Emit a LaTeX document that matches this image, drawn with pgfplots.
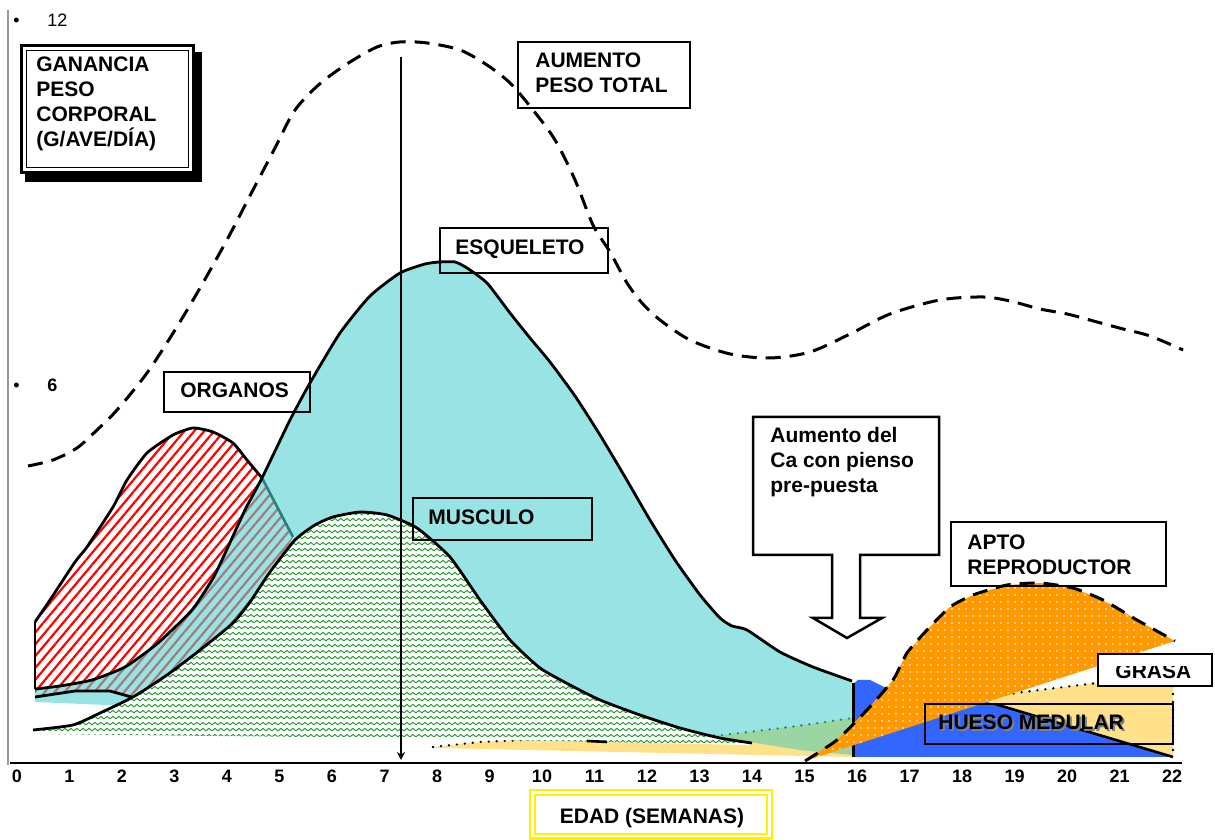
\documentclass[border=0pt]{standalone}
\usepackage{pgfplots}
\pgfplotsset{compat=1.18}
\usepackage{fontspec}
\setmainfont{Liberation Sans}
\usetikzlibrary{patterns, patterns.meta, arrows.meta}

\definecolor{esq}{HTML}{98E4E4}
\definecolor{grasa}{HTML}{FFE18A}
\definecolor{verde}{HTML}{9BD5A2}
\definecolor{tealdot}{HTML}{2E7D7D}
\definecolor{hatchb}{HTML}{A57A7A}
\definecolor{musc}{HTML}{2A9632}
\definecolor{hueso}{HTML}{3366FF}
\definecolor{apto}{HTML}{FF9900}
\definecolor{tealline}{HTML}{2B7F7F}

\tikzdeclarepattern{
  name=zigzag,
  type=uncolored,
  bottom left={(0pt,0pt)},
  top right={(3.2pt,3pt)},
  tile size={(3.2pt,3pt)},
  code={\draw[line width=0.55pt] (0pt,0.7pt) -- (1.6pt,2.1pt) -- (3.2pt,0.7pt);}
}

\newcommand{\lbl}{\fontsize{10.5}{12}\selectfont\bfseries}
\newcommand{\tickf}{\fontsize{9}{10}\selectfont\bfseries}

\begin{document}
\begin{tikzpicture}
\begin{axis}[
    scale only axis,
    width=607.5pt, height=420pt,
    xmin=-0.3238, xmax=22.819,
    ymin=-1.258, ymax=12.290,
    hide axis,
    clip=false,
]
\path (rel axis cs:0,0) rectangle (rel axis cs:1,1);
\coordinate (TL) at (rel axis cs:0,1);

% grasa (yellow)
\addplot[draw=none, fill=grasa] coordinates {
  (7.924,0.242) (8.819,0.323) (10.095,0.371) (11.486,0.403) (12.819,0.419)
  (13.448,0.435) (14.724,0.565) (15.924,0.710) (17.581,0.919) (19.162,1.129)
  (20.571,1.274) (22.019,1.355) (22.019,0.081) (15.924,0.081) (11.486,0.161)
  (7.924,0.226)} -- cycle;
\addplot[black, line width=1.3pt, line cap=round, dash pattern=on 0pt off 4pt] coordinates {
  (7.924,0.242) (8.819,0.323) (10.095,0.371) (11.486,0.403) (12.819,0.419)
  (13.448,0.435) (14.724,0.565) (15.924,0.710) (17.581,0.919) (19.162,1.129)
  (20.571,1.274) (22.019,1.355)};

% esqueleto (cyan)
\addplot[draw=none, fill=esq] coordinates {
  (0.343,1.177) (0.819,1.226) (1.429,1.323) (2.057,1.532) (2.686,1.919)
  (3.333,2.452) (3.714,2.935) (3.905,3.258) (4.343,4.065) (4.667,4.581)
  (5.2,5.516) (5.581,6.113) (6.152,6.919) (6.724,7.516) (7.295,7.887)
  (7.771,8.032) (8.057,8.065) (8.343,8.065) (8.571,7.968) (8.952,7.726)
  (9.390,7.242) (9.771,6.839) (10.152,6.452) (10.629,5.903) (11.105,5.274)
  (11.581,4.597) (12.057,3.903) (12.533,3.258) (13.010,2.694) (13.390,2.323)
  (13.619,2.194) (13.905,2.129) (14.533,1.774) (15.162,1.532) (15.905,1.306)
  (15.924,0.113) (14.914,0.194) (13.962,0.323) (7.295,0.597) (2.152,0.903)
  (0.343,0.968)} -- cycle;

% overlap grasa / esqueleto
\addplot[draw=none, fill=verde] coordinates {
  (12.819,0.419) (13.448,0.435) (14.724,0.565) (15.924,0.710)
  (15.924,0.113) (14.914,0.194) (13.962,0.323) (12.819,0.371)} -- cycle;
\addplot[tealdot, line width=1.3pt, line cap=round, dash pattern=on 0pt off 4pt] coordinates {
  (12.819,0.419) (13.448,0.435) (14.724,0.565) (15.924,0.710)};

% organos
\addplot[draw=none, pattern={Lines[angle=50,distance=3.8pt,line width=1.1pt]}, pattern color=hatchb] coordinates {
  (0.343,2.258) (0.629,2.613) (1.105,3.226) (1.333,3.468) (1.829,4.113)
  (2.095,4.548) (2.476,4.984) (2.971,5.274) (3.352,5.387) (3.733,5.323)
  (4.114,5.145) (4.381,4.871) (4.667,4.581) (5.257,3.629) (4.819,2.935)
  (4.114,2.161) (3.486,1.710) (2.857,1.306) (2.248,1.032) (1.771,1.145)
  (1.105,1.145) (0.343,1.048)} -- cycle;
\addplot[draw=none, fill=white, postaction={pattern={Lines[angle=50,distance=3.8pt,line width=1.1pt]}, pattern color=red}] coordinates {
  (0.343,2.258) (0.629,2.613) (1.105,3.226) (1.333,3.468) (1.829,4.113)
  (2.095,4.548) (2.476,4.984) (2.971,5.274) (3.352,5.387) (3.733,5.323)
  (4.114,5.145) (4.381,4.871) (4.667,4.581) (4.343,4.065) (3.905,3.258)
  (3.714,2.935) (3.333,2.452) (2.686,1.919) (2.057,1.532) (1.429,1.323)
  (0.819,1.226) (0.343,1.177)} -- cycle;
\addplot[black, line width=1.4pt] coordinates {(0.343,1.177) (0.343,2.258)};
\addplot[black, line width=1.4pt, smooth, tension=0.35] coordinates {
  (0.343,2.258) (0.629,2.613) (1.105,3.226) (1.333,3.468) (1.829,4.113)
  (2.095,4.548) (2.476,4.984) (2.971,5.274) (3.352,5.387) (3.733,5.323)
  (4.114,5.145) (4.381,4.871) (4.667,4.581)};
\addplot[tealline, line width=1.3pt] coordinates {(4.667,4.581) (5.257,3.629)};
\addplot[black, line width=1.4pt] coordinates {
  (0.343,1.048) (1.105,1.145) (1.771,1.145) (2.248,1.032)};

% esqueleto outline
\addplot[black, line width=1.4pt, smooth, tension=0.35] coordinates {
  (0.343,1.177) (0.819,1.226) (1.429,1.323) (2.057,1.532) (2.686,1.919)
  (3.333,2.452) (3.714,2.935) (3.905,3.258) (4.343,4.065) (4.667,4.581)
  (5.2,5.516) (5.581,6.113) (6.152,6.919) (6.724,7.516) (7.295,7.887)
  (7.771,8.032) (8.057,8.065) (8.343,8.065) (8.571,7.968) (8.952,7.726)
  (9.390,7.242) (9.771,6.839) (10.152,6.452) (10.629,5.903) (11.105,5.274)
  (11.581,4.597) (12.057,3.903) (12.533,3.258) (13.010,2.694) (13.390,2.323)
  (13.619,2.194) (13.905,2.129) (14.533,1.774) (15.162,1.532) (15.905,1.306)};

% musculo
\addplot[draw=none, fill=white, postaction={pattern=zigzag, pattern color=musc}] coordinates {
  (0.305,0.516) (1.067,0.597) (1.581,0.790) (2.210,1.048) (2.857,1.403)
  (3.486,1.806) (4.114,2.242) (4.438,2.581) (4.819,3.065) (5.295,3.581)
  (5.676,3.823) (6.019,3.952) (6.533,4.032) (7.048,3.984) (7.619,3.774)
  (8.248,3.306) (8.819,2.613) (9.390,1.968) (9.962,1.516) (10.533,1.242)
  (11.105,1.0) (11.867,0.758) (12.629,0.548) (13.390,0.387) (14.0,0.306)
  (14.0,0.274) (7.295,0.387) (0.305,0.452)} -- cycle;
\addplot[black, line width=1.4pt, smooth, tension=0.35] coordinates {
  (0.305,0.516) (1.067,0.597) (1.581,0.790) (2.210,1.048) (2.857,1.403)
  (3.486,1.806) (4.114,2.242) (4.438,2.581) (4.819,3.065) (5.295,3.581)
  (5.676,3.823) (6.019,3.952) (6.533,4.032) (7.048,3.984) (7.619,3.774)
  (8.248,3.306) (8.819,2.613) (9.390,1.968) (9.962,1.516) (10.533,1.242)
  (11.105,1.0) (11.867,0.758) (12.629,0.548) (13.390,0.387) (14.0,0.306)};
\addplot[black, line width=1.3pt] coordinates {(10.857,0.339) (11.238,0.323)};

% hueso medular (blue)
\addplot[draw=none, fill=hueso] coordinates {
  (15.924,0.081) (15.924,1.258) (16.019,1.323) (16.248,1.323) (16.552,1.194)
  (17.2,1.113) (18.476,0.968) (22.019,0.081)} -- cycle;
\addplot[black, line width=1.3pt] coordinates {(18.629,0.935) (22.019,0.081)};
\addplot[black, line width=1.5pt] coordinates {(15.924,1.274) (15.924,0.081)};

% aparato reproductor (orange)
\addplot[draw=none, fill=apto, postaction={pattern={Dots[radius=0.45pt,distance=3.5pt]}, pattern color=white}] coordinates {
  (15.010,0.016) (15.619,0.355) (16.190,0.839) (16.686,1.323) (16.952,1.758)
  (17.333,2.129) (17.771,2.5) (18.210,2.694) (18.857,2.855) (19.486,2.887)
  (20.114,2.806) (20.686,2.613) (21.333,2.290) (22.057,1.952)} -- cycle;
\addplot[black, line width=1.5pt, dash pattern=on 7.5pt off 4.5pt, smooth, tension=0.35] coordinates {
  (15.010,0.016) (15.619,0.355) (16.190,0.839) (16.686,1.323) (16.952,1.758)
  (17.333,2.129) (17.771,2.5) (18.210,2.694) (18.857,2.855) (19.486,2.887)
  (20.114,2.806) (20.686,2.613) (21.333,2.290) (22.057,1.952)};
\addplot[black, line width=1.3pt, line cap=round, dash pattern=on 0pt off 4pt] coordinates {
  (22.019,1.355) (22.019,0.081)};

% aumento peso total (dashed)
\addplot[black, line width=1.5pt, dash pattern=on 7.5pt off 4.5pt, smooth, tension=0.5] coordinates {
  (0.210,4.774) (0.686,4.871) (1.143,5.065) (1.524,5.355) (1.905,5.677)
  (2.476,6.274) (3.010,6.968) (3.486,7.645) (4.019,8.452) (4.495,9.226)
  (4.914,9.903) (5.257,10.468) (5.581,10.790) (5.905,11.032) (6.343,11.290)
  (6.857,11.532) (7.295,11.613) (7.810,11.597) (8.438,11.484) (8.952,11.242)
  (9.390,10.952) (9.829,10.516) (10.248,10.032) (10.629,9.387) (10.971,8.661)
  (11.295,8.226) (11.619,7.726) (11.905,7.403) (12.248,7.129) (12.819,6.806)
  (13.581,6.581) (14.343,6.516) (15.105,6.613) (15.867,6.903) (16.629,7.226)
  (17.581,7.452) (18.4,7.5) (18.914,7.435) (19.486,7.306) (20.0,7.226)
  (20.571,7.097) (21.067,6.984) (21.581,6.871) (22.210,6.645)};

% week labels
\pgfplotsinvokeforeach{0,...,22}{
  \node[anchor=base, font=\tickf, inner sep=0pt] at (axis cs:#1,-0.323) {#1};
}
\end{axis}

\begin{scope}[shift={(TL)}, x=0.5pt, y=-0.5pt]
% axes lines
\draw[gray!80, line width=1pt] (8,10) -- (8,765);
\draw[black, line width=1pt] (10,763) -- (1182,763);
% y marks
\node[anchor=base west, inner sep=0pt, font=\fontsize{9}{10}\selectfont] at (13,27) {•};
\node[anchor=base west, inner sep=0pt, font=\fontsize{9}{10}\selectfont] at (47,27) {12};
\node[anchor=base west, inner sep=0pt, font=\fontsize{9}{10}\selectfont] at (13,392) {•};
\node[anchor=base west, inner sep=0pt, font=\tickf] at (47,392) {6};

% title box
\fill[black] (25,52) rectangle (202,182);
\draw[fill=white, line width=1.5pt] (21,46) rectangle (193,173);
\draw[line width=0.5pt] (26,51) rectangle (188,168);
\node[anchor=base west, inner sep=0pt, font=\lbl] at (36,72) {GANANCIA};
\node[anchor=base west, inner sep=0pt, font=\lbl] at (36,97) {PESO};
\node[anchor=base west, inner sep=0pt, font=\lbl] at (36,122) {CORPORAL};
\node[anchor=base west, inner sep=0pt, font=\lbl] at (36,147) {(G/AVE/DÍA)};

% label boxes
\draw[line width=1.25pt] (518,42) rectangle (690,108);
\node[anchor=base west, inner sep=0pt, font=\lbl] at (535,68) {AUMENTO};
\node[anchor=base west, inner sep=0pt, font=\lbl] at (535,93) {PESO TOTAL};

\draw[line width=1.25pt] (440,228) rectangle (608,273);
\node[anchor=base west, inner sep=0pt, font=\lbl] at (455,255) {ESQUELETO};

\draw[line width=1.25pt] (164,372) rectangle (310,412);
\node[anchor=base west, inner sep=0pt, font=\lbl] at (180,398) {ORGANOS};

\draw[line width=1.25pt] (413,498) rectangle (592,540);
\node[anchor=base west, inner sep=0pt, font=\lbl] at (428,525) {MUSCULO};

\draw[line width=1.25pt] (951,522) rectangle (1166,586);
\node[anchor=base west, inner sep=0pt, font=\lbl] at (967,550) {APTO};
\node[anchor=base west, inner sep=0pt, font=\lbl] at (967,575) {REPRODUCTOR};

\draw[fill=white, line width=1.25pt] (1098,654) rectangle (1212,686);
\node[anchor=base west, inner sep=0pt, font=\lbl] at (1115,679) {GRASA};
\fill[white] (1100,656.5) rectangle (1210,666);

\draw[line width=1.25pt] (925,704) rectangle (1173,744);
\node[anchor=base west, inner sep=0pt, font=\lbl, text=gray] at (940,732) {HUESO MEDULAR};
\node[anchor=base west, inner sep=0pt, font=\lbl] at (938,730) {HUESO MEDULAR};

% callout arrow
\draw[line width=1.25pt, fill=white, line join=miter] (753,417) -- (939,417) -- (939,555)
  -- (860,555) -- (860,618) -- (882,618) -- (847,638) -- (813,618) -- (832,618)
  -- (832,555) -- (753,555) -- cycle;
\node[anchor=base west, inner sep=0pt, font=\lbl] at (770,443) {Aumento del};
\node[anchor=base west, inner sep=0pt, font=\lbl] at (770,468) {Ca con pienso};
\node[anchor=base west, inner sep=0pt, font=\lbl] at (770,493) {pre-puesta};

% vertical arrow
\draw[line width=1pt, -{Stealth[length=4pt, width=4pt]}] (401,57) -- (401,760);

% x label
\draw[yellow, line width=1.3pt] (530,790) rectangle (772,838.5);
\draw[yellow, line width=1pt] (535,795) rectangle (767,834);
\node[anchor=base, inner sep=0pt, font=\lbl] at (652,823) {EDAD (SEMANAS)};
\end{scope}
\end{tikzpicture}
\end{document}
